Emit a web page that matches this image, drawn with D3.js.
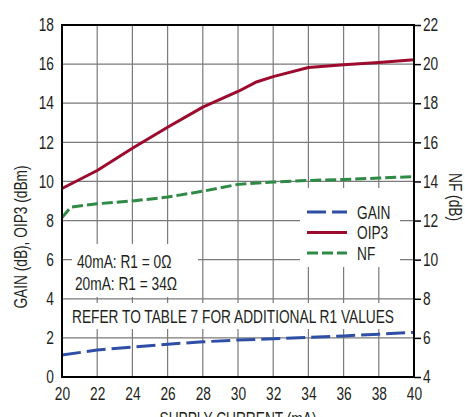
<!DOCTYPE html>
<html>
<head>
<meta charset="utf-8">
<script src="https://cdn.jsdelivr.net/npm/d3@7"></script>
<style>
  body { margin: 0; background: #fff; }
  svg text { font-family: 'Liberation Sans', Arial, sans-serif; fill: #231f20; }
</style>
</head>
<body>
<svg id="chart" width="465" height="417"></svg>
<script>
// supply current (mA)
const current = [20, 22, 24, 26, 28, 30, 31, 32, 34, 36, 38, 40];
const gain = [1.12, 1.38, 1.53, 1.68, 1.8, 1.89, 1.92, 1.95, 2.02, 2.1, 2.19, 2.28];
const oip3 = [9.64, 10.56, 11.7, 12.77, 13.8, 14.6, 15.07, 15.36, 15.83, 15.97, 16.08, 16.22];
const nfCurrent = [20, 20.5, 22, 24, 26, 28, 30, 32, 34, 36, 38, 40];
const nf = [12.15, 12.69, 12.86, 13.0, 13.2, 13.5, 13.85, 13.97, 14.05, 14.1, 14.17, 14.25];

const xTicks = d3.range(20, 41, 2);
const leftTicks = d3.range(0, 19, 2);
const rightTicks = d3.range(4, 23, 2);

const legendItems = [
  { name: 'GAIN', color: '#2f4fa6', dash: '19,6' },
  { name: 'OIP3', color: '#9c0a2e', dash: null },
  { name: 'NF', color: '#2e8a45', dash: '11,4' }
];

const margin = { left: 62, right: 414, top: 25, bottom: 377 };
const svg = d3.select('#chart');

const x = d3.scaleLinear().domain([20, 40]).range([margin.left, margin.right]);
const yL = d3.scaleLinear().domain([0, 18]).range([margin.bottom, margin.top]);
const yR = d3.scaleLinear().domain([4, 22]).range([margin.bottom, margin.top]);

// grid
const grid = svg.append('g').attr('stroke', '#7a7a7a').attr('stroke-width', 1.2);
xTicks.slice(1, -1).forEach(t => {
  grid.append('line').attr('x1', x(t)).attr('x2', x(t)).attr('y1', margin.top).attr('y2', margin.bottom);
});
leftTicks.slice(1, -1).forEach(t => {
  grid.append('line').attr('x1', margin.left).attr('x2', margin.right).attr('y1', yL(t)).attr('y2', yL(t));
});

// white boxes that break the grid
const boxes = svg.append('g').attr('fill', '#fff');
boxes.append('rect').attr('x', 72).attr('y', 244).attr('width', 126).attr('height', 53);
boxes.append('rect').attr('x', margin.left + 1).attr('y', 303).attr('width', margin.right - margin.left - 2).attr('height', 26);
boxes.append('rect').attr('x', 300).attr('y', 188).attr('width', 100).attr('height', 79);

// lines
const lineL = d3.line().x((d, i) => x(current[i])).y(d => yL(d));
const lineNF = d3.line().x((d, i) => x(nfCurrent[i])).y(d => yR(d));

svg.append('path').datum(nf).attr('d', lineNF).attr('fill', 'none')
  .attr('stroke', legendItems[2].color).attr('stroke-width', 3).attr('stroke-dasharray', legendItems[2].dash);
svg.append('path').datum(oip3).attr('d', lineL).attr('fill', 'none')
  .attr('stroke', legendItems[1].color).attr('stroke-width', 3).attr('stroke-linejoin', 'round');
svg.append('path').datum(gain).attr('d', lineL).attr('fill', 'none')
  .attr('stroke', legendItems[0].color).attr('stroke-width', 3).attr('stroke-dasharray', legendItems[0].dash);

// frame
svg.append('rect').attr('x', margin.left).attr('y', margin.top)
  .attr('width', margin.right - margin.left).attr('height', margin.bottom - margin.top)
  .attr('fill', 'none').attr('stroke', '#000').attr('stroke-width', 2);

// axes
const fontSize = '18px';
const axBottom = svg.append('g').attr('transform', `translate(0,${margin.bottom})`)
  .call(d3.axisBottom(x).tickValues(xTicks).tickSize(0).tickPadding(10));
const axLeft = svg.append('g').attr('transform', `translate(${margin.left},0)`)
  .call(d3.axisLeft(yL).tickValues(leftTicks).tickSize(0).tickPadding(8));
const axRight = svg.append('g').attr('transform', `translate(${margin.right},0)`)
  .call(d3.axisRight(yR).tickValues(rightTicks).tickSize(7).tickPadding(2));
[axBottom, axLeft, axRight].forEach(a => {
  a.select('.domain').remove();
  a.selectAll('text').attr('font-size', fontSize).attr('fill', '#231f20');
  a.selectAll('line').attr('stroke', '#000').attr('stroke-width', 1.5);
});

// axis titles
svg.append('text').attr('transform', `translate(27,237) rotate(-90)`)
  .attr('text-anchor', 'middle').attr('font-size', fontSize).text('GAIN (dB), OIP3 (dBm)');
svg.append('text').attr('transform', `translate(449,197) rotate(90)`)
  .attr('text-anchor', 'middle').attr('font-size', fontSize).text('NF (dB)');
svg.append('text').attr('x', (margin.left + margin.right) / 2).attr('y', 425)
  .attr('text-anchor', 'middle').attr('font-size', fontSize).text('SUPPLY CURRENT (mA)');

// annotations
svg.append('text').attr('x', 77).attr('y', 268).attr('font-size', fontSize).text('40mA: R1 = 0Ω');
svg.append('text').attr('x', 75).attr('y', 290).attr('font-size', fontSize).text('20mA: R1 = 34Ω');
const refer = svg.append('text').attr('x', 72).attr('y', 323).attr('font-size', fontSize)
  .text('REFER TO TABLE 7 FOR ADDITIONAL R1 VALUES');

// legend
const legend = svg.append('g');
legendItems.forEach((d, i) => {
  const ly = 212 + i * 20.5;
  legend.append('line').attr('x1', 307).attr('x2', 347).attr('y1', ly).attr('y2', ly)
    .attr('stroke', d.color).attr('stroke-width', 3).attr('stroke-dasharray', d.dash);
  legend.append('text').attr('x', 357).attr('y', ly + 6.5).attr('font-size', fontSize).text(d.name);
});

// condensed type: squeeze every text to the narrow width of the original face
const squeeze = 322 / refer.node().getComputedTextLength();
svg.selectAll('text').each(function() {
  const w = this.getComputedTextLength();
  d3.select(this).attr('textLength', w * squeeze).attr('lengthAdjust', 'spacingAndGlyphs');
});
</script>
</body>
</html>
